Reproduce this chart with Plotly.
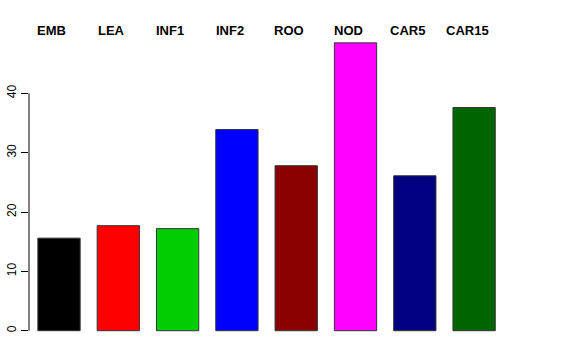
import plotly.graph_objects as go

categories = ["EMB", "LEA", "INF1", "INF2", "ROO", "NOD", "CAR5", "CAR15"]
values = [15.6, 17.7, 17.2, 33.9, 27.8, 48.5, 26.1, 37.6]
colors = ["#000000", "#FF0000", "#00CD00", "#0000FF", "#8B0000", "#FF00FF", "#000080", "#006400"]
tick_vals = [0, 10, 20, 30, 40]

x = list(range(len(categories)))

fig = go.Figure()
fig.add_trace(go.Bar(
    x=x, y=values,
    marker=dict(color=colors, line=dict(color="#333333", width=1)),
    showlegend=False, hoverinfo="skip",
))

for i, c in enumerate(categories):
    fig.add_annotation(
        x=i - 0.12, y=1, xref="x", yref="paper", yshift=1, text="<b>" + c + "</b>",
        showarrow=False, xanchor="center", yanchor="middle",
        font=dict(family="Liberation Sans, Arial", size=13, color="black"),
    )

fig.add_shape(type="line", xref="paper", yref="y", x0=0, x1=0, y0=0, y1=40,
              line=dict(color="black", width=1))

fig.update_layout(
    width=576, height=360,
    margin=dict(l=29, r=72, t=31, b=17),
    paper_bgcolor="white", plot_bgcolor="white",
    bargap=0.287,
    font=dict(family="Liberation Sans, Arial", size=12, color="black"),
    xaxis=dict(range=[-0.506, 7.504], showticklabels=False, ticks="",
               showgrid=False, zeroline=False, showline=False, automargin=False),
    yaxis=dict(range=[-2.07, 50.5], tickvals=tick_vals, ticks="outside", ticklen=7,
               tickcolor="black", tickwidth=1, tickangle=-90, showgrid=False,
               zeroline=False, showline=False, tickfont=dict(size=12), automargin=False),
)

fig.write_html("out.html", config={"displayModeBar": False},
               post_script="document.body.style.margin='0';")
